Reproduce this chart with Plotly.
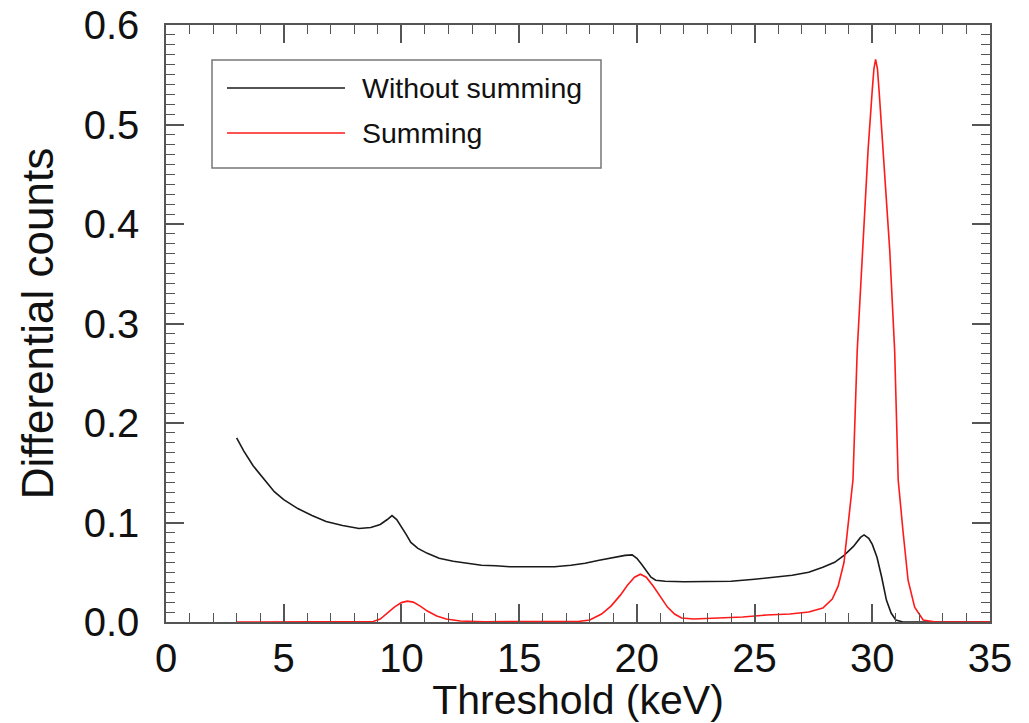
import plotly.graph_objects as go

# ---- data ----
x_without = [3.0, 3.3, 3.7, 4.1, 4.6, 5.0, 5.6, 6.2, 6.8, 7.5, 8.2, 8.7, 9.1, 9.4, 9.6, 9.8,
             10.0, 10.2, 10.4, 10.7, 11.1, 11.6, 12.2, 12.8, 13.4, 14.0, 14.6, 15.5, 16.5,
             17.2, 17.8, 18.4, 19.0, 19.5, 19.8, 20.0, 20.2, 20.4, 20.6, 20.8, 21.2, 22.0,
             23.0, 24.0, 25.0, 25.8, 26.6, 27.3, 27.9, 28.4, 28.8, 29.2, 29.5, 29.65, 29.85,
             30.0, 30.2, 30.4, 30.6, 30.8, 31.0, 31.3, 33.0, 35.0]
y_without = [0.185, 0.172, 0.157, 0.145, 0.131, 0.123, 0.114, 0.107, 0.101, 0.097, 0.094,
             0.095, 0.098, 0.103, 0.107, 0.103, 0.096, 0.088, 0.080, 0.074, 0.069, 0.064,
             0.061, 0.059, 0.057, 0.0565, 0.0556, 0.0555, 0.0556, 0.057, 0.059, 0.062, 0.065,
             0.067, 0.0675, 0.064, 0.058, 0.051, 0.045, 0.042, 0.041, 0.0405, 0.0405, 0.041,
             0.043, 0.045, 0.047, 0.050, 0.055, 0.060, 0.067, 0.076, 0.085, 0.0875, 0.084,
             0.078, 0.065, 0.045, 0.022, 0.009, 0.002, 0.0, 0.0, 0.0]

x_summing = [3.0, 8.8, 9.1, 9.4, 9.7, 10.0, 10.25, 10.5, 10.8, 11.1, 11.5, 11.9, 12.5, 13.5,
             17.5, 18.0, 18.5, 18.9, 19.3, 19.6, 19.9, 20.15, 20.4, 20.7, 21.0, 21.3, 21.6,
             21.9, 22.4, 23.5, 24.5, 25.5, 26.5, 27.3, 27.9, 28.3, 28.55, 28.8, 29.0, 29.18,
             29.36, 29.6, 29.82, 30.0, 30.07, 30.14, 30.22, 30.3, 30.45, 30.74, 30.95, 31.1,
             31.3, 31.52, 31.8, 32.16, 32.7, 35.0]
y_summing = [0.0, 0.0005, 0.003, 0.009, 0.015, 0.0195, 0.021, 0.020, 0.016, 0.011, 0.006,
             0.003, 0.001, 0.0003, 0.0005, 0.002, 0.008, 0.016, 0.027, 0.037, 0.045, 0.048,
             0.045, 0.036, 0.025, 0.015, 0.008, 0.004, 0.003, 0.004, 0.005, 0.007, 0.008,
             0.010, 0.014, 0.023, 0.036, 0.060, 0.105, 0.143, 0.273, 0.374, 0.474, 0.535,
             0.556, 0.5655, 0.556, 0.530, 0.474, 0.374, 0.273, 0.143, 0.0925, 0.042, 0.015,
             0.002, 0.0, 0.0]

series_names = ["Without summing", "Summing"]
series_colors = ["#1a1a1a", "#ff1a1a"]

x_ticks = [0, 5, 10, 15, 20, 25, 30, 35]
y_ticks = [0.0, 0.1, 0.2, 0.3, 0.4, 0.5, 0.6]
x_title = "Threshold (keV)"
y_title = "Differential counts"

FONT = "Liberation Sans, Arial, Helvetica, sans-serif"
AXC = "#555555"

fig = go.Figure()
for xs, ys, name, col in [(x_without, y_without, series_names[0], series_colors[0]),
                          (x_summing, y_summing, series_names[1], series_colors[1])]:
    fig.add_trace(go.Scatter(x=xs, y=ys, mode="lines", name=name,
                             line=dict(color=col, width=1.6), showlegend=False))

axis_common = dict(
    automargin=False, showgrid=False, zeroline=False, showline=True, linecolor=AXC,
    linewidth=1.5, mirror="ticks", ticks="inside", ticklen=18, tickwidth=1.5,
    tickcolor=AXC, tickfont=dict(family=FONT, size=40, color="#111111"),
)
fig.update_xaxes(range=[0, 35], tickvals=x_ticks, ticktext=[str(v) for v in x_ticks],
                 minor=dict(ticks="inside", ticklen=9, dtick=1, tick0=0, tickcolor=AXC,
                            tickwidth=1.2, showgrid=False),
                 ticklabelstandoff=0,
                 title=dict(text=x_title, font=dict(family=FONT, size=41, color="#111111"),
                            standoff=9),
                 **axis_common)
fig.update_yaxes(range=[0, 0.6], tickvals=y_ticks, ticktext=[f"{v:.1f}" for v in y_ticks],
                 minor=dict(ticks="inside", ticklen=9, dtick=0.01, tick0=0, tickcolor=AXC,
                            tickwidth=1.2, showgrid=False),
                 ticklabelstandoff=17,
                 title=dict(text=y_title, font=dict(family=FONT, size=44, color="#111111"),
                            standoff=16),
                 **axis_common)

# legend box drawn in paper coordinates
L, R, T, B = 166, 990, 25, 622
W, H = R - L, B - T
def px(x):
    return (x - L) / W
def py(y):
    return (B - y) / H

fig.add_shape(type="rect", xref="paper", yref="paper", x0=px(212), x1=px(601),
              y0=py(168), y1=py(60), line=dict(color="#777777", width=1.5),
              fillcolor="white", layer="above")
for i, (name, col) in enumerate(zip(series_names, series_colors)):
    yy = [88, 133][i]
    fig.add_shape(type="line", xref="paper", yref="paper", x0=px(227), x1=px(345),
                  y0=py(yy), y1=py(yy), line=dict(color=col, width=1.6), layer="above")
    fig.add_annotation(xref="paper", yref="paper", x=px(360), y=py(yy), text=name,
                       showarrow=False, xanchor="left", yanchor="middle",
                       font=dict(family=FONT, size=28.5, color="#111111"))

fig.update_layout(
    width=1029, height=723, autosize=False,
    margin=dict(l=L, r=1029 - R, t=T, b=723 - B, pad=0),
    paper_bgcolor="white", plot_bgcolor="white",
    showlegend=False,
)

fig.write_html("out.html")
